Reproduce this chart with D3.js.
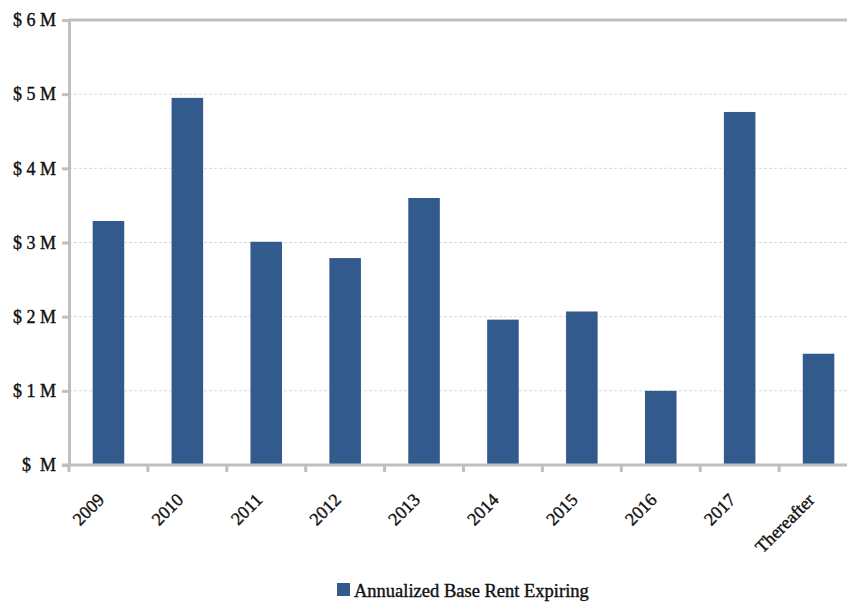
<!DOCTYPE html>
<html>
<head>
<meta charset="utf-8">
<script src="https://cdn.jsdelivr.net/npm/d3@7"></script>
<style>
  html, body { margin: 0; padding: 0; background: #fff; }
  svg { display: block; }
  svg text { font-family: "Liberation Serif", "Times New Roman", serif; }
</style>
</head>
<body>
<svg id="chart" width="847" height="602"></svg>
<script>
// Expiring annualized base rent by year (millions of dollars)
const categories = ["2009", "2010", "2011", "2012", "2013", "2014", "2015", "2016", "2017", "Thereafter"];
const rentValues = [3.29, 4.95, 3.01, 2.79, 3.60, 1.96, 2.07, 1.00, 4.76, 1.50];
const yTicks = [0, 1, 2, 3, 4, 5, 6];
const yTickLabels = ["$  M", "$ 1 M", "$ 2 M", "$ 3 M", "$ 4 M", "$ 5 M", "$ 6 M"];
const seriesName = "Annualized Base Rent Expiring";

const serif = "'Liberation Serif', 'Times New Roman', serif";
const textColor = "#111";
const svg = d3.select("#chart");
const margin = { left: 69, top: 20, bottom: 465, right: 858 };
const barColor = "#325A8C";
const axisColor = "#bfbfbf";

const x = d3.scaleBand().domain(categories).range([margin.left, margin.right]).paddingInner(0.6).paddingOuter(0.3);
const y = d3.scaleLinear().domain([0, 6]).range([margin.bottom, margin.top]);

// Heavier text rendering: fill plus a thin outline of the same colour
function heavy(sel) {
  return sel.attr("font-family", serif).attr("fill", textColor)
    .attr("stroke", textColor).attr("stroke-width", 0.4);
}

// Gridlines
svg.append("g").selectAll("line").data(yTicks.filter(d => d > 0 && d < 6)).join("line")
  .attr("x1", margin.left).attr("x2", margin.right)
  .attr("y1", d => y(d)).attr("y2", d => y(d))
  .attr("stroke", "#d9d9d9").attr("stroke-width", 1).attr("stroke-dasharray", "3,2");

// Top border of plot area
svg.append("line").attr("x1", margin.left).attr("x2", margin.right)
  .attr("y1", y(6)).attr("y2", y(6)).attr("stroke", axisColor).attr("stroke-width", 3);

// Bars
svg.append("g").selectAll("rect").data(categories).join("rect")
  .attr("x", d => x(d))
  .attr("width", x.bandwidth())
  .attr("y", (d, i) => y(rentValues[i]))
  .attr("height", (d, i) => y(0) - y(rentValues[i]))
  .attr("fill", barColor);

// Y axis
const yAxis = svg.append("g").attr("transform", `translate(${margin.left},0)`)
  .call(d3.axisLeft(y).tickValues(yTicks).tickFormat((d, i) => yTickLabels[i]).tickSize(7).tickPadding(6));
yAxis.attr("font-family", serif);
yAxis.select(".domain").attr("stroke", axisColor).attr("stroke-width", 3);
yAxis.selectAll(".tick line").attr("stroke", axisColor).attr("stroke-width", 3);
yAxis.selectAll(".tick text").call(heavy).attr("font-size", 18).style("white-space", "pre");

// X axis with boundary ticks between categories
const step = x.step();
const boundaries = d3.range(categories.length).map(i => margin.left + i * step);
const xg = svg.append("g");
xg.append("line").attr("x1", margin.left - 7).attr("x2", margin.right)
  .attr("y1", y(0)).attr("y2", y(0)).attr("stroke", axisColor).attr("stroke-width", 3);
xg.selectAll("line.tick").data(boundaries).join("line").attr("class", "tick")
  .attr("x1", d => d).attr("x2", d => d).attr("y1", y(0)).attr("y2", y(0) + 7)
  .attr("stroke", axisColor).attr("stroke-width", 3);
xg.selectAll("text").data(categories).join("text")
  .attr("transform", d => `translate(${x(d) + x.bandwidth() / 2 - 3},${y(0) + 36}) rotate(-45)`)
  .attr("text-anchor", "end")
  .call(heavy)
  .attr("font-size", 18)
  .text(d => d);

// Legend
const legend = svg.append("g");
legend.append("rect").attr("x", 337).attr("y", 583).attr("width", 13).attr("height", 13).attr("fill", barColor);
legend.append("text").attr("x", 354).attr("y", 597).call(heavy)
  .attr("font-size", 18.5).text(seriesName);
</script>
</body>
</html>
